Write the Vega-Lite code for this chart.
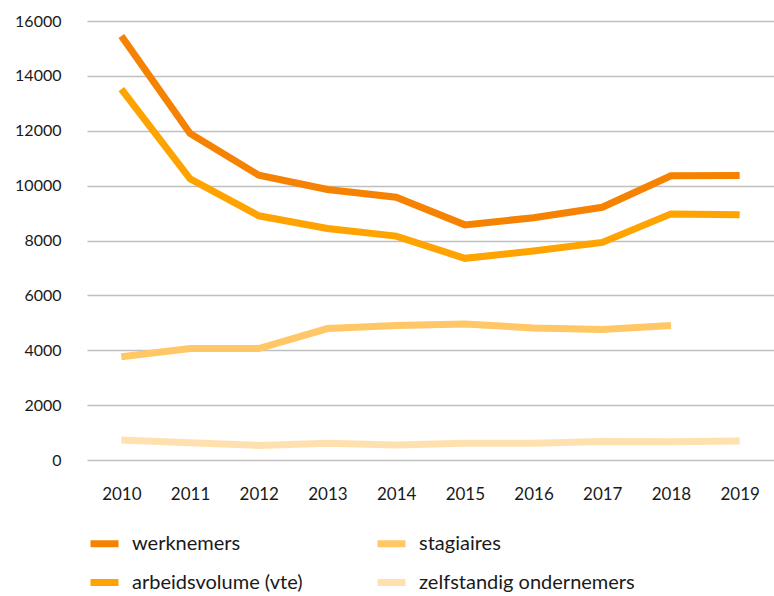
{
  "$schema": "https://vega.github.io/schema/vega-lite/v6.json",
  "width": 687,
  "height": 439,
  "autosize": {"type": "none"},
  "padding": {"left": 87, "top": 21, "right": 0, "bottom": 136},
  "background": "white",
  "config": {
    "font": "Lato",
    "view": {"stroke": null}
  },
  "data": {
    "values": [
      {"jaar": "2010", "reeks": "werknemers", "waarde": 15450},
      {"jaar": "2011", "reeks": "werknemers", "waarde": 11900},
      {"jaar": "2012", "reeks": "werknemers", "waarde": 10380},
      {"jaar": "2013", "reeks": "werknemers", "waarde": 9860},
      {"jaar": "2014", "reeks": "werknemers", "waarde": 9580},
      {"jaar": "2015", "reeks": "werknemers", "waarde": 8570},
      {"jaar": "2016", "reeks": "werknemers", "waarde": 8830},
      {"jaar": "2017", "reeks": "werknemers", "waarde": 9210},
      {"jaar": "2018", "reeks": "werknemers", "waarde": 10360},
      {"jaar": "2019", "reeks": "werknemers", "waarde": 10370},
      {"jaar": "2010", "reeks": "arbeidsvolume (vte)", "waarde": 13520},
      {"jaar": "2011", "reeks": "arbeidsvolume (vte)", "waarde": 10250},
      {"jaar": "2012", "reeks": "arbeidsvolume (vte)", "waarde": 8900},
      {"jaar": "2013", "reeks": "arbeidsvolume (vte)", "waarde": 8440},
      {"jaar": "2014", "reeks": "arbeidsvolume (vte)", "waarde": 8160},
      {"jaar": "2015", "reeks": "arbeidsvolume (vte)", "waarde": 7350},
      {"jaar": "2016", "reeks": "arbeidsvolume (vte)", "waarde": 7620},
      {"jaar": "2017", "reeks": "arbeidsvolume (vte)", "waarde": 7930},
      {"jaar": "2018", "reeks": "arbeidsvolume (vte)", "waarde": 8970},
      {"jaar": "2019", "reeks": "arbeidsvolume (vte)", "waarde": 8935},
      {"jaar": "2010", "reeks": "stagiaires", "waarde": 3760},
      {"jaar": "2011", "reeks": "stagiaires", "waarde": 4060},
      {"jaar": "2012", "reeks": "stagiaires", "waarde": 4060},
      {"jaar": "2013", "reeks": "stagiaires", "waarde": 4790},
      {"jaar": "2014", "reeks": "stagiaires", "waarde": 4905},
      {"jaar": "2015", "reeks": "stagiaires", "waarde": 4960},
      {"jaar": "2016", "reeks": "stagiaires", "waarde": 4810},
      {"jaar": "2017", "reeks": "stagiaires", "waarde": 4760},
      {"jaar": "2018", "reeks": "stagiaires", "waarde": 4900},
      {"jaar": "2010", "reeks": "zelfstandig ondernemers", "waarde": 730},
      {"jaar": "2011", "reeks": "zelfstandig ondernemers", "waarde": 630},
      {"jaar": "2012", "reeks": "zelfstandig ondernemers", "waarde": 530},
      {"jaar": "2013", "reeks": "zelfstandig ondernemers", "waarde": 610},
      {"jaar": "2014", "reeks": "zelfstandig ondernemers", "waarde": 545},
      {"jaar": "2015", "reeks": "zelfstandig ondernemers", "waarde": 610},
      {"jaar": "2016", "reeks": "zelfstandig ondernemers", "waarde": 610},
      {"jaar": "2017", "reeks": "zelfstandig ondernemers", "waarde": 670},
      {"jaar": "2018", "reeks": "zelfstandig ondernemers", "waarde": 665},
      {"jaar": "2019", "reeks": "zelfstandig ondernemers", "waarde": 690}
    ]
  },
  "mark": {"type": "line", "strokeWidth": 7, "strokeCap": "butt", "strokeJoin": "miter"},
  "encoding": {
    "x": {
      "field": "jaar",
      "type": "ordinal",
      "scale": {"type": "point", "padding": 0.5},
      "axis": {
        "title": null,
        "domain": false,
        "ticks": false,
        "labelAngle": 0,
        "labelPadding": 26,
        "labelFontSize": 17,
        "labelColor": "#1a1a1a",
        "grid": false
      }
    },
    "y": {
      "field": "waarde",
      "type": "quantitative",
      "scale": {"domain": [0, 16000], "nice": false},
      "axis": {
        "title": null,
        "domain": false,
        "ticks": false,
        "values": [0, 2000, 4000, 6000, 8000, 10000, 12000, 14000, 16000],
        "format": "d",
        "labelPadding": 26,
        "labelFontSize": 16,
        "labelColor": "#1a1a1a",
        "gridColor": "#c0c0c0",
        "gridWidth": 1.5
      }
    },
    "color": {
      "field": "reeks",
      "type": "nominal",
      "scale": {
        "domain": ["werknemers", "stagiaires", "arbeidsvolume (vte)", "zelfstandig ondernemers"],
        "range": ["#f58200", "#ffc766", "#ffa300", "#ffe1b0"]
      },
      "legend": {
        "title": null,
        "orient": "none",
        "legendX": 0,
        "legendY": 505,
        "columns": 2,
        "direction": "horizontal",
        "symbolType": "stroke",
        "symbolSize": 784,
        "symbolStrokeWidth": 7,
        "labelFontSize": 20,
        "labelLimit": 400,
        "labelColor": "#1a1a1a",
        "labelOffset": 10,
        "columnPadding": 60,
        "rowPadding": 7
      }
    }
  }
}
